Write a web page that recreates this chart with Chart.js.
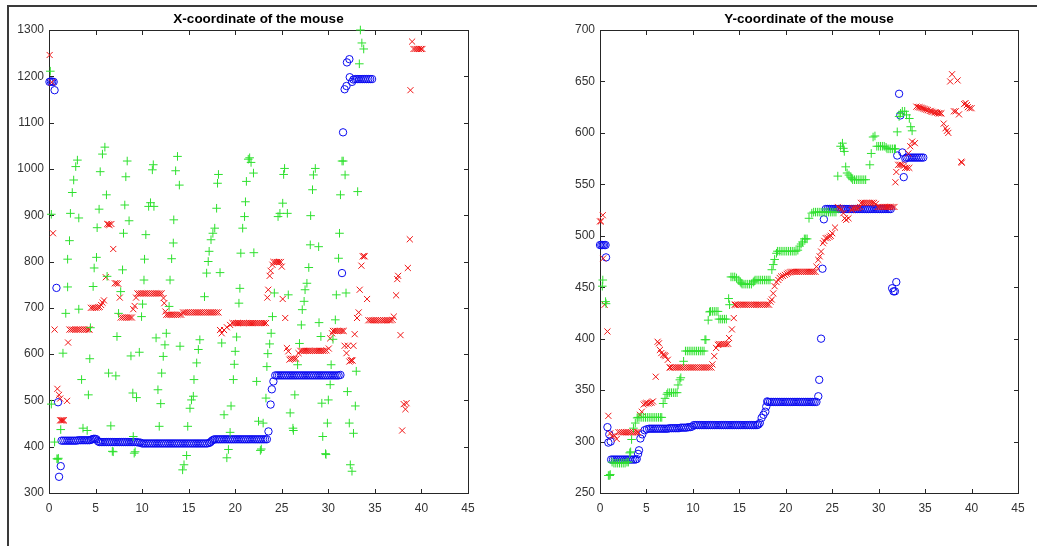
<!DOCTYPE html>
<html><head><meta charset="utf-8">
<script src="https://cdn.jsdelivr.net/npm/chart.js@4"></script>
<style>
html,body{margin:0;padding:0;background:#fff;}
#wrap{position:relative;width:1037px;height:546px;overflow:hidden;background:#fff;}
#frame{position:absolute;left:7px;top:5px;width:1100px;height:600px;border-top:2px solid #3a3a3a;border-left:2px solid #3a3a3a;}
.box{position:absolute;top:0;height:546px;}
</style></head><body>
<div id="wrap">
<div id="frame"></div>
<div class="box" style="left:0;width:520px"><canvas id="c1" width="520" height="546"></canvas></div>
<div class="box" style="left:520px;width:517px"><canvas id="c2" width="517" height="546"></canvas></div>
</div>
<script>
// ---------- tick values ----------
const xTicks = [0,5,10,15,20,25,30,35,40,45];
const yTicksLeft = [300,400,500,600,700,800,900,1000,1100,1200,1300];
const yTicksRight = [250,300,350,400,450,500,550,600,650,700];
const titleLeft = "X-coordinate of the mouse";
const titleRight = "Y-coordinate of the mouse";

// ---------- X-coordinate chart: [time, value] ----------
const xBlue = [
[0.05,1188],[0.2,1189],[0.35,1188],[0.5,1188],[0.6,1170],[0.8,743],[0.97,496],[1.08,335],[1.26,358],
[1.35,413],[1.55,413],[1.75,413],[1.95,413],[2.15,413],[2.35,413],[2.55,413],[2.75,413],[2.95,413],[3.15,414],[3.35,414],[3.55,414],[3.75,414],[3.95,414],[4.15,414],[4.35,414],
[4.5,415],[4.65,416],[4.8,417],[4.95,417],[5.1,416],[5.25,412],
[5.4,410],[5.6,410],[5.8,410],[6.0,410],[6.2,410],[6.4,410],[6.6,410],[6.8,410],[7.0,410],[7.2,410],[7.4,410],[7.6,410],[7.8,410],[8.0,410],[8.2,410],[8.4,410],[8.6,410],[8.8,410],[9.0,410],[9.2,410],[9.4,410],[9.6,409],[9.8,409],
[10.0,407],[10.2,407],[10.4,407],[10.6,407],[10.8,407],[11.0,407],[11.2,407],[11.4,407],[11.6,407],[11.8,407],[12.0,407],[12.2,407],[12.4,407],[12.6,407],[12.8,407],[13.0,407],[13.2,407],[13.4,407],[13.6,407],[13.8,407],[14.0,407],[14.2,407],[14.4,407],[14.6,407],[14.8,407],[15.0,407],[15.2,407],[15.4,407],[15.6,407],[15.8,407],[16.0,407],[16.2,407],[16.4,407],[16.6,407],[16.8,407],[17.0,407],[17.2,408],
[17.35,410],[17.5,413],[17.65,415],
[17.8,416],[18.0,416],[18.2,416],[18.4,416],[18.6,416],[18.8,416],[19.0,416],[19.2,416],[19.4,416],[19.6,416],[19.8,416],[20.0,416],[20.2,416],[20.4,416],[20.6,416],[20.8,416],[21.0,416],[21.2,416],[21.4,416],[21.6,416],[21.8,416],[22.0,416],[22.2,416],[22.4,416],[22.6,416],[22.8,416],[23.0,416],[23.2,416],[23.4,416],
[23.57,433],[23.8,491],[23.93,524],[24.1,541],
[24.3,554],[24.5,554],[24.7,554],[24.9,554],[25.1,554],[25.3,554],[25.5,554],[25.7,554],[25.9,554],[26.1,554],[26.3,554],[26.5,554],[26.7,554],[26.9,554],[27.1,554],[27.3,554],[27.5,554],[27.7,554],[27.9,554],[28.1,554],[28.3,554],[28.5,554],[28.7,554],[28.9,554],[29.1,554],[29.3,554],[29.5,554],[29.7,554],[29.9,554],[30.1,554],[30.3,554],[30.5,554],[30.7,554],[30.9,554],[31.1,554],[31.3,555],
[31.47,775],[31.58,1079],[31.75,1172],[31.95,1179],[32.0,1230],[32.26,1237],[32.3,1198],[32.55,1188],
[32.7,1193],[32.9,1194],[33.1,1194],[33.3,1194],[33.5,1194],[33.7,1194],[33.9,1194],[34.1,1194],[34.3,1194],[34.5,1194],[34.7,1194]
];
const xRed = [
[0.07,1246],[0.3,1187],[0.43,861],[0.6,653],[0.9,525],[1.08,512],[1.2,504],[1.2,457],[1.3,457],[1.4,457],[1.5,457],[1.6,457],[1.94,499],[2.05,625],
[2.2,653],[2.4,653],[2.6,653],[2.8,653],[3.0,653],[3.2,653],[3.4,653],[3.6,653],[3.8,653],[4.0,653],[4.2,653],[4.35,653],
[4.5,700],[4.7,700],[4.9,700],[5.1,700],[5.3,701],[5.45,702],
[5.6,706],[5.75,711],[5.9,716],[6.1,766],[6.25,881],[6.4,880],[6.5,879],[6.7,881],[6.9,827],[7.07,753],[7.25,753],[7.43,752],[7.6,722],
[7.7,679],[7.9,679],[8.1,679],[8.3,679],[8.5,679],[8.7,679],[8.9,679],
[9.05,697],[9.2,704],[9.35,722],
[9.5,731],[9.7,731],[9.9,731],[10.1,731],[10.3,731],[10.5,731],[10.7,731],[10.9,731],[11.1,731],[11.3,731],[11.5,731],[11.7,731],[11.9,731],[12.1,731],
[12.3,721],[12.38,710],[12.5,692],
[12.6,685],[12.8,685],[13.0,685],[13.2,685],[13.4,685],[13.6,685],[13.8,685],[14.0,685],[14.2,685],
[14.4,690],[14.6,690],[14.8,690],[15.0,690],[15.2,690],[15.4,690],[15.6,690],[15.8,690],[16.0,690],[16.2,690],[16.4,690],[16.6,690],[16.8,690],[17.0,690],[17.2,690],[17.4,690],[17.6,690],[17.8,690],[18.0,690],[18.2,690],
[18.37,652],[18.55,645],[18.8,652],[19.1,658],[19.45,663],
[19.7,667],[19.9,667],[20.1,667],[20.3,667],[20.5,667],[20.7,667],[20.9,667],[21.1,667],[21.3,667],[21.5,667],[21.7,667],[21.9,667],[22.1,667],[22.3,667],[22.5,667],[22.7,667],[22.9,667],[23.1,667],[23.3,667],
[23.45,722],[23.55,739],[23.7,769],[23.8,780],[24.0,793],
[24.1,799],[24.3,799],[24.5,799],[24.7,799],[24.9,799],
[25.0,789],[25.1,719],[25.37,678],[25.55,613],[25.7,606],[25.83,588],
[25.95,590],[26.15,590],[26.35,590],[26.55,590],
[26.8,602],
[27.0,607],[27.2,607],[27.4,607],[27.6,607],[27.8,607],[28.0,607],[28.2,607],[28.4,607],[28.6,607],[28.8,607],[29.0,607],[29.2,607],[29.4,607],[29.6,607],[29.8,608],
[30.05,612],[30.2,634],[30.4,645],
[30.5,650],[30.7,650],[30.9,650],[31.1,650],[31.3,650],[31.5,650],[31.65,650],
[31.75,618],[31.95,602],[32.1,618],[32.26,584],[32.4,586],[32.5,587],[32.6,586],[32.7,618],[32.83,643],[33.08,678],[33.26,690],[33.37,739],[33.55,791],[33.7,811],[33.8,812],[33.9,811],[34.16,719],
[34.3,673],[34.5,673],[34.7,673],[34.9,673],[35.1,673],[35.3,673],[35.5,673],[35.7,673],[35.9,673],[36.1,673],[36.3,673],[36.5,673],[36.7,673],[36.9,674],
[37.03,681],[37.28,727],[37.4,762],[37.5,769],[37.75,641],[37.93,435],[38.1,492],[38.28,481],[38.4,494],[38.54,786],[38.75,848],[38.82,1170],[39.0,1275],
[39.15,1259],[39.35,1259],[39.55,1259],[39.75,1259],[39.95,1259],[40.1,1259]
];
const xGreen = [
[0.14,1211],[0.25,902],[0.25,492],[0.6,410],[0.85,374],[0.95,373],[1.0,375],[1.26,437],[1.5,602],[1.8,688],[2.0,745],[2.0,805],[2.2,845],[2.3,904],[2.5,949],[2.65,976],[2.87,1005],[3.05,1019],[3.2,894],[3.2,697],[3.5,545],[3.65,440],[4.1,435],[4.23,512],[4.38,590],[4.45,657],[4.74,746],[4.85,786],[5.1,809],[5.17,873],[5.38,913],[5.5,994],[5.74,1032],[6.0,1047],[6.17,944],[6.24,768],[6.4,559],[6.64,445],[6.8,390],[6.9,389],[7.18,553],[7.3,638],[7.47,688],[7.7,735],[7.9,782],[8.0,861],[8.14,922],[8.25,983],[8.4,1017],[8.6,888],[8.8,596],[9.0,516],[9.05,422],[9.15,386],[9.25,389],[9.4,506],[9.7,604],[9.94,681],[10.05,708],[10.2,760],[10.26,805],[10.4,858],[10.7,919],[10.9,927],[11.1,998],[11.2,1009],[11.27,919],[11.5,635],[11.7,523],[11.84,444],[12.0,493],[12.1,559],[12.27,595],[12.45,620],[12.6,645],[12.9,703],[13.0,760],[13.17,806],[13.35,840],[13.4,890],[13.6,996],[13.8,1027],[14.0,965],[14.07,617],[14.35,350],[14.5,361],[14.78,381],[14.9,444],[15.14,483],[15.3,501],[15.5,509],[15.57,545],[15.86,581],[16.04,610],[16.2,631],[16.7,724],[16.93,775],[17.1,800],[17.2,822],[17.4,847],[17.6,861],[17.8,872],[18.0,915],[18.1,969],[18.2,988],[18.37,776],[18.55,624],[18.8,469],[19.1,376],[19.27,394],[19.45,431],[19.55,488],[19.8,545],[19.9,578],[20.0,606],[20.15,637],[20.4,710],[20.5,742],[20.6,818],[20.8,872],[21.0,897],[21.1,929],[21.2,973],[21.4,1021],[21.55,1024],[21.7,1014],[21.96,991],[22.0,819],[22.3,541],[22.5,455],[22.7,392],[22.8,395],[23.0,451],[23.3,505],[23.4,573],[23.5,601],[23.7,622],[23.86,645],[24.0,681],[24.2,732],[24.6,897],[24.8,904],[25.1,926],[25.2,988],[25.3,1001],[25.6,904],[25.7,728],[25.9,473],[26.2,440],[26.25,435],[26.4,512],[26.7,577],[26.9,623],[27.1,663],[27.2,696],[27.4,714],[27.5,739],[27.7,753],[27.9,787],[28.06,836],[28.1,899],[28.3,955],[28.4,987],[28.6,1001],[28.96,832],[29.0,668],[29.2,638],[29.3,494],[29.4,422],[29.7,385],[29.75,383],[29.9,451],[30.0,501],[30.2,534],[30.3,577],[30.5,632],[30.75,674],[30.86,728],[31.1,807],[31.2,861],[31.3,944],[31.47,1017],[31.6,1017],[31.8,987],[31.9,732],[32.05,519],[32.25,451],[32.36,361],[32.54,347],[32.7,429],[32.9,488],[33.0,563],[33.15,951],[33.33,1227],[33.44,1300],[33.6,1272],[33.8,1259]
];

// ---------- Y-coordinate chart: [time, value] ----------
const yBlue = [
[0.0,491],[0.15,491],[0.3,491],[0.45,491],[0.6,491],[0.65,479],[0.8,314],[0.9,299],[1.0,307],[1.15,300],
[1.2,282.5],[1.4,282.5],[1.6,282.5],[1.8,282.5],[2.0,282.5],[2.2,282.5],[2.4,282.5],[2.6,282.5],[2.8,282.5],[3.0,282.5],[3.2,282.5],[3.4,282.5],[3.6,282.5],[3.8,282.5],[3.95,283],
[4.1,288],[4.2,291.5],[4.35,303],[4.55,307],[4.8,311],[5.05,312],
[5.3,312.5],[5.5,312.5],[5.7,312.5],[5.9,312.5],[6.1,312.5],[6.3,312.5],[6.5,312.5],[6.7,312.5],[6.9,312.5],[7.1,312.5],[7.3,312.5],[7.5,313],[7.7,313],[7.9,313],[8.1,313],[8.3,313],[8.5,313],[8.7,313.5],[8.9,313.5],[9.1,313.5],[9.3,313.5],
[9.5,314],[9.7,314],[9.9,314.5],
[10.1,316],[10.3,316],[10.5,316],[10.7,316],[10.9,316],[11.1,316],[11.3,316],[11.5,316],[11.7,316],[11.9,316],[12.1,316],[12.3,316],[12.5,316],[12.7,316],[12.9,316],[13.1,316],[13.3,316],[13.5,316],[13.7,316],[13.9,316],[14.1,316],[14.3,316],[14.5,316],[14.7,316],[14.9,316],[15.1,316],[15.3,316],[15.5,316],[15.7,316],[15.9,316],[16.1,316],[16.3,316],[16.5,316],[16.7,316],[16.9,316],[17.05,316.5],
[17.2,318],[17.4,323],[17.6,326],[17.8,329],[17.9,334],[18.0,339],
[18.1,338.5],[18.3,338.5],[18.5,338.5],[18.7,338.5],[18.9,338.5],[19.1,338.5],[19.3,338.5],[19.5,338.5],[19.7,338.5],[19.9,338.5],[20.1,338.5],[20.3,338.5],[20.5,338.5],[20.7,338.5],[20.9,338.5],[21.1,338.5],[21.3,338.5],[21.5,338.5],[21.7,338.5],[21.9,338.5],[22.1,338.5],[22.3,338.5],[22.5,338.5],[22.7,338.5],[22.9,338.5],[23.1,338.5],[23.3,338.5],
[23.5,344],[23.6,360],[23.8,400],[23.95,468],[24.1,516],
[24.3,526],[24.5,526],[24.7,526],[24.9,526],[25.1,526],[25.3,526],[25.5,526],[25.7,526],[25.9,526],[26.1,526],[26.3,526],[26.5,526],[26.7,526],[26.9,526],[27.1,526],[27.3,526],[27.5,526],[27.7,526],[27.9,526],[28.1,526],[28.3,526],[28.5,526],[28.7,526],[28.9,526],[29.1,526],[29.3,526],[29.5,526],[29.7,526],[29.9,526],[30.1,526],[30.3,526],[30.5,526],[30.7,526],[30.9,526],[31.1,526],[31.3,526],
[31.45,449],[31.6,446],[31.75,446],[31.9,455],[32.0,578],[32.2,638],[32.33,617],[32.55,581],[32.7,557],[32.87,575],
[33.0,576],[33.2,576],[33.4,576],[33.6,576],[33.8,576],[34.0,576],[34.2,576],[34.4,576],[34.6,576],[34.8,576]
];
const yRed = [
[0.0,514],[0.1,514],[0.3,520],[0.35,478],[0.5,433],[0.8,407],[0.9,325],[1.1,308],[1.3,305],[1.55,306],[1.8,302.5],
[2.0,309],[2.2,309],[2.4,309],[2.6,309],[2.8,309],[3.0,309],[3.2,309],[3.4,309],[3.6,309],[3.8,309],[4.0,309],[4.1,309],
[4.3,326],[4.5,329],[4.7,336],[4.85,337],[5.0,337.5],[5.2,337],[5.4,337.5],[5.55,338],[5.7,339],[6.0,363],[6.2,397],[6.35,395.5],[6.45,389],[6.6,386],[6.8,384.5],[6.95,384],[7.05,383],[7.3,379.5],[7.5,372],
[7.6,372],[7.8,372],[8.0,372],[8.2,372],[8.4,372],[8.6,372],[8.8,372],[9.0,372],[9.2,372],[9.4,372],[9.6,372],[9.8,372],[10.0,372],[10.2,372],[10.4,372],[10.6,372],[10.8,372],[11.0,372],[11.2,372],[11.4,372],[11.6,372],[11.8,372],[12.0,372],
[12.1,375],[12.3,383],[12.5,391],[12.7,394],
[12.8,394.7],[13.0,394.7],[13.2,394.7],[13.4,394.7],[13.6,394.7],[13.8,395],
[13.9,400.6],[14.2,409],[14.4,420],[14.5,433],
[14.6,433],[14.8,433],[15.0,433],[15.2,433],[15.4,433],[15.6,433],[15.8,433],[16.0,433],[16.2,433],[16.4,433],[16.6,433],[16.8,433],[17.0,433],[17.2,433],[17.4,433],[17.6,433],[17.8,433],[18.0,433],[18.2,433],
[18.35,436],[18.5,438],[18.65,444],[18.8,451],[19.0,455],[19.2,457],[19.35,459],[19.5,460.5],[19.7,461],[19.9,462],[20.1,463],[20.25,464],[20.45,464.5],
[20.6,465],[20.8,465],[21.0,465],[21.2,465],[21.4,465],[21.6,465],[21.8,465],[22.0,465],[22.2,465],[22.4,465],[22.6,465],[22.8,465],[23.0,465],[23.2,465],
[23.3,470],[23.5,476.6],[23.65,480],[23.8,484.7],[24.0,492.8],[24.15,495],[24.3,497.7],[24.5,498],[24.7,499],[24.85,500],[25.0,502.5],[25.3,508],[25.6,528],[25.8,527],[26.0,526],[26.2,522],[26.35,517],[26.5,515.5],[26.75,517],[27.1,525],
[27.2,527],[27.4,527],[27.6,527],[27.8,527],[28.0,528],
[28.1,532],[28.3,532],[28.5,532],[28.7,532],[28.9,532],[29.1,532],[29.3,532],[29.5,532],[29.7,531],
[29.9,528],[30.1,528],[30.3,528],[30.5,528],[30.7,528],[30.9,528],[31.1,528],[31.3,528],[31.5,528],[31.7,528],
[31.8,552],[31.9,562],[32.1,569],[32.3,569],[32.5,569],[32.7,568],[32.85,566],[33.05,566],[33.3,566],[33.2,580],[33.4,587],[33.6,591.5],[33.9,590],
[34.06,625.5],[34.25,625],[34.4,625],[34.55,624.5],[34.7,624],[34.85,623.5],[35.0,623],[35.15,622.5],[35.3,622],[35.5,621.3],[35.65,621],[35.8,620.5],[36.0,620],[36.15,620],[36.3,619.5],[36.45,619],[36.6,619],[36.75,619],
[37.0,609],[37.2,604.5],[37.35,602],[37.5,600],[37.7,650],[37.9,657],[38.1,621],[38.3,621],[38.5,651],[38.65,618],[38.9,572],[38.95,571],[39.2,628],[39.35,629],[39.5,627],[39.6,625],[39.8,624],[40.0,624]
];
const yGreen = [
[0.25,451],[0.3,457],[0.6,436],[0.65,434],[0.9,267],[1.05,267],[1.1,268],
[1.3,280],[1.5,279],[1.7,279],[1.9,279],[2.1,279],[2.3,279],[2.5,279],[2.7,279],[2.9,280],[3.05,280],
[3.2,289],[3.3,290],[3.4,302],[3.6,313],[3.8,318],[4.0,323],
[4.1,323.5],[4.3,323.5],[4.5,323.5],[4.7,323.5],[4.9,323.5],[5.1,323.5],[5.3,323.5],[5.5,323.5],[5.7,323.5],[5.9,323.5],[6.1,323.5],[6.3,323.5],[6.5,323.5],[6.65,323.5],
[6.8,337],[7.0,342],[7.2,346],
[7.3,347.5],[7.5,347.5],[7.7,347.5],[7.9,347.5],[8.1,347.5],[8.3,347.5],
[8.4,355],[8.6,360],[8.7,362],[9.0,378],
[9.2,388],[9.4,388],[9.6,388],[9.8,388],[10.0,388],[10.2,388],[10.4,388],[10.6,388],[10.8,388],[11.0,388],[11.2,388],
[11.3,399],[11.4,399],[11.65,418],[11.8,426],
[11.9,426.5],[12.1,426.5],[12.3,426.5],[12.5,426.5],[12.7,426.5],
[12.8,419],[13.0,419],[13.2,419],[13.4,419],[13.6,419],
[13.85,439],[13.95,433],
[14.1,460],[14.3,460],[14.5,460],[14.7,459],
[14.95,457],[15.1,455],[15.2,454],
[15.3,453],[15.5,453],[15.7,453],[15.9,453],[16.1,453],[16.3,453],
[16.5,455],[16.6,456],[16.7,457],[16.9,457],[17.1,457],[17.3,457],[17.5,457],[17.7,457],[17.9,457],[18.1,457],[18.3,457],
[18.5,467],[18.65,472],[18.8,477],[19.0,483],
[19.1,485],[19.3,485],[19.5,485],[19.7,485],[19.9,485],[20.1,485],[20.3,485],[20.5,485],[20.7,485],[20.9,485],[21.1,485],[21.3,486],
[21.5,490],[21.65,492],[21.8,494],[22.0,497],[22.15,497],[22.3,497],[22.5,517],[22.8,522],
[23.0,523],[23.2,523],[23.4,523],[23.6,523],[23.8,523],[24.0,523],[24.2,523],[24.4,523],[24.6,523],[24.8,523],[25.0,523],[25.2,523],[25.4,523],
[25.6,558],[25.9,587],[26.1,590],[26.2,585],[26.3,582],[26.45,567],[26.6,561],[26.8,559],[27.0,557],[27.1,556],
[27.2,554.5],[27.4,554.5],[27.6,554.5],[27.8,554.5],[28.0,554.5],[28.2,554.5],[28.4,554.5],[28.6,554.5],
[29.05,569],[29.2,580],[29.4,596],[29.6,597],
[29.8,587],[30.0,587],[30.2,587],[30.4,587],[30.6,587],[30.8,586],
[30.9,584.5],[31.1,584.5],[31.3,584.5],[31.5,584.5],[31.7,584.5],[31.8,584.5],
[32.0,601],[32.2,616],[32.35,619],[32.55,621],[32.8,621],[33.0,617.5],[33.3,614],[33.45,606],[33.6,602]
];

// ---------- styling helpers ----------
const FONT = '"Liberation Sans", Arial, Helvetica, sans-serif';
const BLUE = '#0a0af0', RED = '#f01414', GREEN = '#2ee02e';

function ds(arr, style, color, r){
  return {
    data: arr.map(p => ({x:p[0], y:p[1]})),
    showLine:false, pointStyle:style, pointRadius:r, pointHoverRadius:r,
    pointBorderColor:color, pointBackgroundColor:'rgba(0,0,0,0)', pointBorderWidth:1,
    clip:false
  };
}

const matlabAxes = {
  id:'matlabAxes',
  beforeDatasetsDraw(chart, args, opts){
    const {ctx, chartArea:a, scales:{x,y}} = chart;
    ctx.save();
    ctx.strokeStyle = '#262626';
    ctx.lineWidth = 1;
    const L = Math.round(a.left)+0.5, R = Math.round(a.right)+0.5, T = Math.round(a.top)+0.5, B = Math.round(a.bottom)+0.5;
    ctx.strokeRect(L, T, R-L, B-T);
    const tl = 4.5;
    ctx.beginPath();
    x.ticks.forEach(t => {
      const px = Math.round(x.getPixelForValue(t.value))+0.5;
      ctx.moveTo(px, B); ctx.lineTo(px, B-tl);
      ctx.moveTo(px, T); ctx.lineTo(px, T+tl);
    });
    y.ticks.forEach(t => {
      const py = Math.round(y.getPixelForValue(t.value))+0.5;
      ctx.moveTo(L, py); ctx.lineTo(L+tl, py);
      ctx.moveTo(R, py); ctx.lineTo(R-tl, py);
    });
    ctx.stroke();
    ctx.fillStyle = '#000';
    ctx.font = 'bold 13.5px ' + FONT;
    ctx.textAlign = 'center';
    ctx.textBaseline = 'middle';
    ctx.fillText(opts.text, (a.left + a.right)/2, 19);
    ctx.restore();
  }
};

function makeChart(id, title, yMin, yMax, yTicks, yAxisWidth, padRight, blue, red, green){
  return new Chart(document.getElementById(id), {
    type:'scatter',
    data:{ datasets:[ ds(green,'cross',GREEN,4.3), ds(red,'crossRot',RED,4.3), ds(blue,'circle',BLUE,3.7) ] },
    options:{
      responsive:false, animation:false, events:[],
      layout:{ padding:{ left:0, right:padRight, top:30, bottom:0 } },
      plugins:{ legend:{display:false}, tooltip:{enabled:false}, title:{display:false}, matlabAxes:{ text:title } },
      scales:{
        x:{
          type:'linear', min:0, max:45,
          afterBuildTicks: s => { s.ticks = xTicks.map(v => ({value:v})); },
          afterFit: s => { s.height = 53; },
          grid:{ display:false, drawTicks:false }, border:{ display:false },
          ticks:{ color:'#333', font:{ size:12, family:FONT }, padding:8, maxRotation:0, autoSkip:false, callback: v => String(v) }
        },
        y:{
          type:'linear', min:yMin, max:yMax,
          afterBuildTicks: s => { s.ticks = yTicks.map(v => ({value:v})); },
          afterFit: s => { s.width = yAxisWidth; },
          grid:{ display:false, drawTicks:false }, border:{ display:false },
          ticks:{ color:'#333', font:{ size:12, family:FONT }, padding:5, autoSkip:false, callback: v => String(v) }
        }
      }
    },
    plugins:[matlabAxes]
  });
}

makeChart('c1', titleLeft, 300, 1300, yTicksLeft, 49, 52, xBlue, xRed, xGreen);
makeChart('c2', titleRight, 250, 700, yTicksRight, 80, 19, yBlue, yRed, yGreen);
</script>
</body></html>
